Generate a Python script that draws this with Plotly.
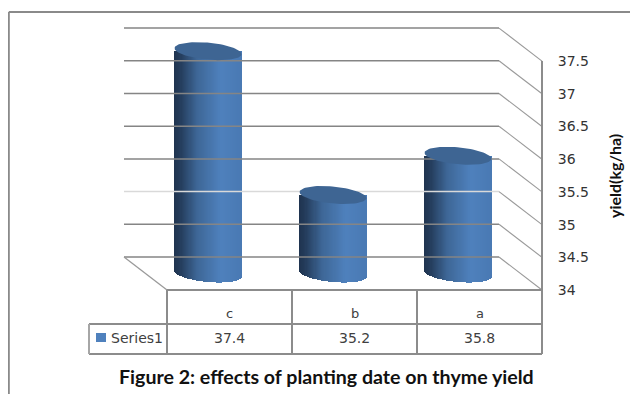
import numpy as np
import plotly.graph_objects as go

categories = ["c", "b", "a"]
values = [37.4, 35.2, 35.8]
series_name = "Series1"
tick_vals = [34, 34.5, 35, 35.5, 36, 36.5, 37, 37.5]
tick_text = ["34", "34.5", "35", "35.5", "36", "36.5", "37", "37.5"]
title_text = "Figure 2: effects of planting date on thyme yield"
y_title = "yield(kg/ha)"

M = 8                      # the page's own body margin
W, H = 638 - M, 394 - M    # figure size; all pixel values below are window pixels minus M
PX_X, PX_Y = 125.0, 32.7 / 0.5
X0_PX, Y34_PX = 229.5 - M, 290.0 - M
xr = [-X0_PX / PX_X, (W - X0_PX) / PX_X]
yr = [34 - (H - Y34_PX) / PX_Y, 34 + Y34_PX / PX_Y]
DX, DY = 43 / PX_X, 33 / PX_Y           # depth of the back wall
N = len(categories)
LEFT, RIGHT = -0.5, N - 0.5
GRID = "#858585"

fig = go.Figure()


def line(xs, ys, color=GRID, width=1.4):
    fig.add_trace(go.Scatter(x=xs, y=ys, mode="lines", line=dict(color=color, width=width),
                             hoverinfo="skip", showlegend=False))


# back wall gridlines and the slanted side wall lines
for v in tick_vals:
    c = "#d9d9d9" if v == 35 else GRID
    line([LEFT - DX, RIGHT - DX], [v + DY, v + DY], color=c, width=1.5)
    line([RIGHT - DX, RIGHT], [v + DY, v], color="#9a9a9a", width=1.1)
line([LEFT - DX, LEFT], [34 + DY, 34], color="#9a9a9a", width=1.3)
line([RIGHT, RIGHT], [34, 37.5], color="#8c8c8c", width=2)

# cylinders
A, B, T = 33.5 / PX_X, 8.5 / PX_Y, 3 / PX_Y
n_strip = 60
stops_p = [0, 0.08, 0.35, 0.7, 1]
stops_c = [(31, 52, 80), (35, 58, 88), (62, 103, 151), (79, 129, 189), (74, 122, 180)]


def strip_color(p):
    return "rgb(%d,%d,%d)" % tuple(np.interp(p, stops_p, [s[k] for s in stops_c]) for k in range(3))


for i, v in enumerate(values):
    cx = i - DX / 2
    off = DY / 2
    p = (np.arange(n_strip) + 0.5) / n_strip
    u = 2 * p - 1
    xs = cx + A * u
    low = 34 + off - B * np.sqrt(1 - u ** 2) - T * u
    top = np.full(n_strip, v + off)
    fig.add_trace(go.Bar(x=xs, y=top - low, base=low, width=2 * A / n_strip * 1.4,
                         marker=dict(color=[strip_color(q) for q in p], line=dict(width=0)),
                         hoverinfo="skip", showlegend=False))
    t = np.linspace(0, 2 * np.pi, 80)
    fig.add_trace(go.Scatter(x=cx + A * np.cos(t), y=v + off + B * np.sin(t) - T * np.cos(t),
                             mode="lines", fill="toself", fillcolor="#3e6593",
                             line=dict(width=0, color="#3e6593"), hoverinfo="skip", showlegend=False))


def px(x):
    return (x - M) / W


def py(y):
    return 1 - (y - M) / H


shapes = []


def seg(x0, y0, x1, y1, color="#8c8c8c", width=2):
    shapes.append(dict(type="line", xref="paper", yref="paper", x0=px(x0), y0=py(y0), x1=px(x1), y1=py(y1),
                       line=dict(color=color, width=width)))


# outer frame
seg(8.8, 12, 638, 12, color="#8a8a8a")
seg(8.8, 12, 8.8, 394, color="#8a8a8a")
# data table
seg(167, 290, 542, 290)
seg(89, 324, 542, 324)
seg(89, 354, 542, 354)
seg(89, 324, 89, 354, color="#a6a6a6")
for xp in (167, 292, 417, 542):
    seg(xp, 290, xp, 354)
shapes.append(dict(type="rect", xref="paper", yref="paper", x0=px(96), x1=px(106), y0=py(342), y1=py(333),
                   fillcolor="#4f81bd", line=dict(width=0)))

ann = []
TXT = "#404040"
for i, (c, v) in enumerate(zip(categories, values)):
    ann.append(dict(x=i, y=py(313), xref="x", yref="paper", text=c, showarrow=False, yanchor="middle",
                    font=dict(family="DejaVu Sans", size=13, color=TXT)))
    ann.append(dict(x=i, y=py(338), xref="x", yref="paper", text=str(v), showarrow=False, yanchor="middle",
                    font=dict(family="DejaVu Sans", size=14, color=TXT)))
ann.append(dict(x=px(109), y=py(338), xref="paper", yref="paper", xanchor="left", yanchor="middle",
                text=series_name, showarrow=False,
                font=dict(family="DejaVu Sans", size=14, color=TXT)))
ann.append(dict(x=px(326.5), y=py(376), xref="paper", yref="paper", text=title_text, showarrow=False,
                xanchor="center", yanchor="middle",
                font=dict(family="Lato", size=19.6, color="#111111", weight="bold")))
ann.append(dict(x=px(614), y=py(176), xref="paper", yref="paper", text=y_title, showarrow=False, textangle=-90,
                xanchor="center", yanchor="middle",
                font=dict(family="Lato", size=16, color="#111111", weight="bold")))

fig.update_layout(
    width=W, height=H, margin=dict(l=0, r=0, t=0, b=0), autosize=False,
    paper_bgcolor="white", plot_bgcolor="white", showlegend=False, barmode="overlay", bargap=0,
    shapes=shapes, annotations=ann,
    xaxis=dict(range=xr, visible=False, domain=[0, 1], fixedrange=True),
    yaxis=dict(range=yr, side="right", anchor="free", position=(542 - M) / W, domain=[0, 1],
               tickmode="array", tickvals=tick_vals, ticktext=tick_text, showgrid=False, zeroline=False,
               showline=False, ticks="outside", ticklen=12, tickcolor="rgba(0,0,0,0)",
               tickfont=dict(family="DejaVu Sans", size=14, color="#333333"), fixedrange=True),
)
fig.write_html("out.html")
